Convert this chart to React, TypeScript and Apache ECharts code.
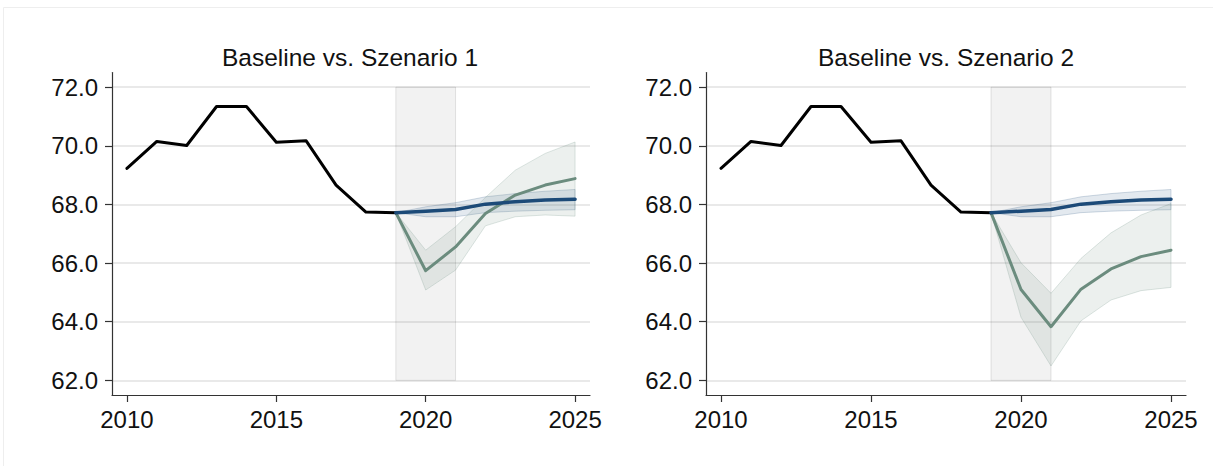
import React, { useEffect, useRef } from "react";
import * as echarts from "echarts";

// ---- data ----
const histYears = [2010, 2011, 2012, 2013, 2014, 2015, 2016, 2017, 2018, 2019];
const historic = [69.23, 70.15, 70.01, 71.34, 71.34, 70.12, 70.17, 68.66, 67.74, 67.72];

const fcYears = [2019, 2020, 2021, 2022, 2023, 2024, 2025];
const baseline = [67.72, 67.77, 67.83, 68.01, 68.09, 68.15, 68.18];
const baselineLo = [67.72, 67.58, 67.58, 67.72, 67.77, 67.8, 67.82];
const baselineHi = [67.72, 67.92, 68.06, 68.26, 68.37, 68.45, 68.51];

const scen1 = [67.72, 65.74, 66.55, 67.69, 68.32, 68.66, 68.88];
const scen1Lo = [67.72, 65.08, 65.76, 67.27, 67.58, 67.64, 67.6];
const scen1Hi = [67.72, 66.44, 67.24, 68.24, 69.17, 69.74, 70.13];

const scen2 = [67.72, 65.1, 63.83, 65.11, 65.8, 66.22, 66.44];
const scen2Lo = [67.72, 64.15, 62.49, 64.03, 64.74, 65.06, 65.17];
const scen2Hi = [67.72, 66.01, 64.97, 66.16, 67.03, 67.64, 68.03];

const shadeX = [2019, 2021];
const shadeY = [62, 72];

const xTicks = [2010, 2015, 2020, 2025];
const yTicks = [62, 64, 66, 68, 70, 72];
const titles = ["Baseline vs. Szenario 1", "Baseline vs. Szenario 2"];

const FONT = "'Liberation Sans', Arial, Helvetica, sans-serif";

export default function App() {
  const ref = useRef<HTMLDivElement>(null);

  useEffect(() => {
    if (!ref.current) return;
    const chart = echarts.init(ref.current, undefined, { renderer: "svg" });

    const grids = [
      { left: 112, top: 72.5, width: 478, height: 322.5 },
      { left: 706, top: 72.5, width: 480, height: 322.5 },
    ];

    const mkX = (gi: number) => ({
      type: "value",
      gridIndex: gi,
      min: 2009.5,
      max: 2025.5,
      axisLine: { show: true, onZero: false, lineStyle: { color: "#333", width: 1.2 } },
      axisTick: { show: true, length: 7, customValues: xTicks, lineStyle: { color: "#333", width: 1.2 } },
      axisLabel: {
        customValues: xTicks,
        fontSize: 24,
        color: "#111",
        margin: 12,
        fontFamily: FONT,
        formatter: (v: number) => String(v),
      },
      splitLine: { show: false },
    });
    const mkY = (gi: number) => ({
      type: "value",
      gridIndex: gi,
      min: 61.5,
      max: 72.5,
      axisLine: { show: true, onZero: false, lineStyle: { color: "#333", width: 1.2 } },
      axisTick: { show: true, length: 7, customValues: yTicks, lineStyle: { color: "#333", width: 1.2 } },
      axisLabel: {
        customValues: yTicks,
        fontSize: 24,
        color: "#111",
        margin: 14,
        fontFamily: FONT,
        formatter: (v: number) => v.toFixed(1),
      },
      splitLine: { show: true, lineStyle: { color: "#e2e2e2", width: 1.5 } },
    });

    const shadeSeries = (gi: number) => ({
      type: "custom",
      xAxisIndex: gi,
      yAxisIndex: gi,
      silent: true,
      z: 1,
      data: [[shadeX[0], shadeY[0], shadeX[1], shadeY[1]]],
      encode: { x: [0, 2], y: [1, 3] },
      renderItem: (params: any, api: any) => {
        const p0 = api.coord([api.value(0), api.value(1)]);
        const p1 = api.coord([api.value(2), api.value(3)]);
        return {
          type: "rect",
          shape: { x: p0[0], y: p1[1], width: p1[0] - p0[0], height: p0[1] - p1[1] },
          style: { fill: "rgba(0,0,0,0.05)", stroke: "rgba(0,0,0,0.1)", lineWidth: 1 },
        };
      },
    });

    const bandSeries = (gi: number, lo: number[], hi: number[], fill: string, stroke: string) => {
      const data = fcYears.map((x, i) => [x, lo[i], hi[i]]);
      return {
        type: "custom",
        xAxisIndex: gi,
        yAxisIndex: gi,
        silent: true,
        z: 3,
        data,
        encode: { x: 0, y: [1, 2] },
        renderItem: (params: any, api: any) => {
          if (params.dataIndex !== 0) return null;
          const top = data.map((d) => api.coord([d[0], d[2]]));
          const bot = data.map((d) => api.coord([d[0], d[1]])).reverse();
          return {
            type: "polygon",
            shape: { points: top.concat(bot) },
            style: { fill, stroke, lineWidth: 1 },
          };
        },
      };
    };

    const lineSeries = (gi: number, xs: number[], ys: number[], color: string, width: number, z: number) => ({
      type: "line",
      xAxisIndex: gi,
      yAxisIndex: gi,
      data: xs.map((x, i) => [x, ys[i]]),
      showSymbol: false,
      symbol: "none",
      silent: true,
      z,
      lineStyle: { color, width, join: "round", cap: "round" },
    });

    const BLUE = "#1c4a78";
    const GREEN = "#6b8c7e";
    const blueFill = "rgba(28,74,120,0.12)";
    const blueStroke = "rgba(28,74,120,0.2)";
    const greenFill = "rgba(107,140,126,0.13)";
    const greenStroke = "rgba(107,140,126,0.22)";

    const scenarios = [
      { mid: scen1, lo: scen1Lo, hi: scen1Hi },
      { mid: scen2, lo: scen2Lo, hi: scen2Hi },
    ];

    const series: any[] = [];
    [0, 1].forEach((gi) => {
      const s = scenarios[gi];
      series.push(shadeSeries(gi));
      series.push(bandSeries(gi, baselineLo, baselineHi, blueFill, blueStroke));
      series.push(bandSeries(gi, s.lo, s.hi, greenFill, greenStroke));
      series.push(lineSeries(gi, histYears, historic, "#000", 3, 6));
      series.push(lineSeries(gi, fcYears, s.mid, GREEN, 3, 5));
      series.push(lineSeries(gi, fcYears, baseline, BLUE, 3.5, 6));
    });

    chart.setOption({
      animation: false,
      backgroundColor: "#fff",
      textStyle: { fontFamily: FONT },
      grid: grids,
      xAxis: [mkX(0), mkX(1)],
      yAxis: [mkY(0), mkY(1)],
      graphic: [
        {
          type: "rect",
          silent: true,
          shape: { x: 3.5, y: 7.5, width: 1220, height: 470 },
          style: { fill: "none", stroke: "#eeeeee", lineWidth: 1 },
        },
        {
          type: "text",
          x: 350,
          y: 57,
          style: { text: titles[0], align: "center", verticalAlign: "middle", fontSize: 24.5, fill: "#111", font: `24.5px ${FONT}` },
        },
        {
          type: "text",
          x: 946,
          y: 57,
          style: { text: titles[1], align: "center", verticalAlign: "middle", fontSize: 24.5, fill: "#111", font: `24.5px ${FONT}` },
        },
      ],
      series,
    });

    return () => chart.dispose();
  }, []);

  return (
    <div
      ref={ref}
      style={{ position: "absolute", left: 0, top: 0, width: 1213, height: 466 }}
    />
  );
}
